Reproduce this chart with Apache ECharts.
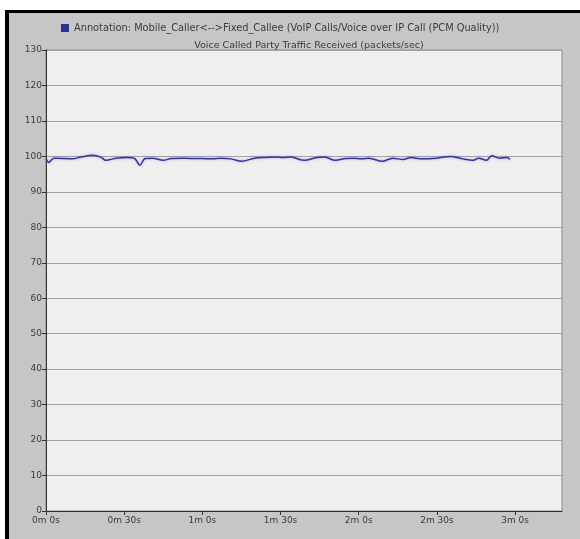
<!DOCTYPE html>
<html>
<head>
<meta charset="utf-8">
<script src="https://cdn.jsdelivr.net/npm/echarts@6/dist/echarts.min.js"></script>
<style>
html,body{margin:0;padding:0;background:#fff;}
#c{width:580px;height:539px;}
</style>
</head>
<body>
<div id="c"></div>
<script>
const seriesName = 'Annotation: Mobile_Caller<-->Fixed_Callee (VoIP Calls/Voice over IP Call (PCM Quality))';
const chartTitle = 'Voice Called Party Traffic Received (packets/sec)';
const timesSec = [0,1,3,6,10,14,18,21,23,27,31,34,36,38,41,45,48,52,56,60,64,67,71,75,80,84,88,91,94,99,104,107,111,115,118,121,124,129,133,137,140,144,150,155,160,164,166,169,171,174,177,178];
const packetsPerSec = [99.4,98.3,99.5,99.4,99.3,99.9,100.3,99.8,98.9,99.5,99.7,99.4,97.5,99.4,99.5,98.9,99.4,99.5,99.4,99.4,99.3,99.5,99.3,98.6,99.5,99.7,99.8,99.7,99.8,98.9,99.7,99.8,98.9,99.4,99.5,99.3,99.5,98.6,99.5,99.1,99.7,99.3,99.5,100.0,99.3,98.9,99.5,98.9,100.2,99.5,99.7,99.1];
const xTickSec = [0,30,60,90,120,150,180];
const xTickLabels = ['0m 0s','0m 30s','1m 0s','1m 30s','2m 0s','2m 30s','3m 0s'];

const chart = echarts.init(document.getElementById('c'), null, {renderer:'canvas'});
const font = 'DejaVu Sans';
chart.setOption({
  animation:false,
  backgroundColor:'#ffffff',
  graphic:[
    {type:'rect', z:-10, shape:{x:5,y:10,width:575,height:529}, style:{fill:'#000'}},
    {type:'rect', z:-9, shape:{x:9,y:13,width:571,height:526}, style:{fill:'#c6c6c6'}}
  ],
  title:{
    text: chartTitle,
    left: 304, top: 36, textAlign:'center',
    textStyle:{fontFamily:font,fontSize:9.5,fontWeight:'normal',color:'#3a3a3a'}
  },
  legend:{
    left: 56, top: 18,
    icon:'rect', itemWidth:8, itemHeight:8, itemGap:4,
    textStyle:{fontFamily:font,fontSize:9.8,color:'#3a3a3a'},
    data:[seriesName]
  },
  grid:{
    left:46, right:18, top:50, bottom:28,
    show:true, backgroundColor:'#efefef', borderColor:'#8a8a8a', borderWidth:1
  },
  xAxis:{
    type:'value', min:0, max:198, interval:30,
    axisLine:{show:true,onZero:false,lineStyle:{color:'#333',width:1}},
    axisTick:{show:true,length:4,lineStyle:{color:'#333'}},
    splitLine:{show:false},
    axisLabel:{
      fontFamily:font,fontSize:9,color:'#3a3a3a',margin:5,
      showMaxLabel:false,
      formatter:function(v){ const i = xTickSec.indexOf(v); return i>=0 ? xTickLabels[i] : ''; }
    }
  },
  yAxis:{
    type:'value', min:0, max:130, interval:10,
    axisLine:{show:true,lineStyle:{color:'#333',width:1}},
    axisTick:{show:true,length:4,lineStyle:{color:'#333'}},
    splitLine:{show:true,lineStyle:{color:'#a3a3a3',width:1}},
    axisLabel:{fontFamily:font,fontSize:9,color:'#3a3a3a',margin:4}
  },
  series:[{
    name: seriesName,
    type:'line',
    data: timesSec.map((t,i)=>[t, packetsPerSec[i]]),
    showSymbol:false,
    smooth:0.3,
    itemStyle:{color:'#2f2f8f'},
    lineStyle:{color:'#34349a',width:1.5,shadowColor:'rgba(90,90,220,0.45)',shadowBlur:3}
  }]
});
</script>
</body>
</html>
